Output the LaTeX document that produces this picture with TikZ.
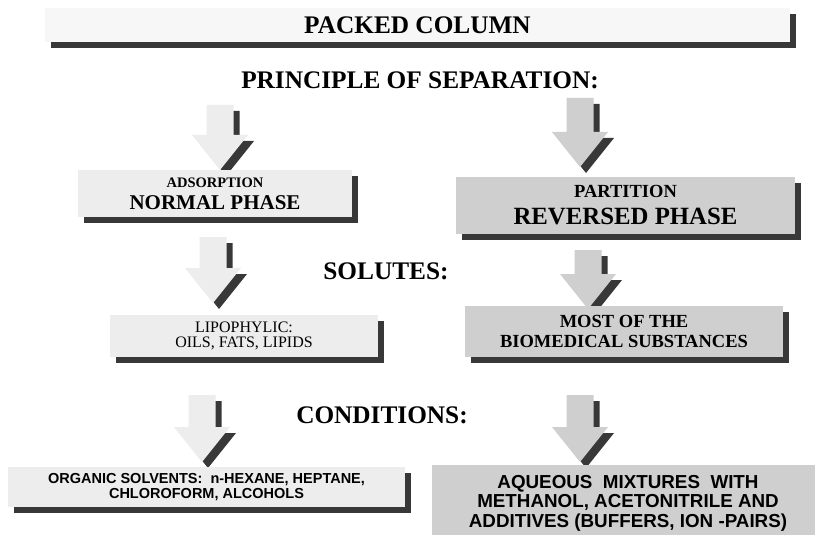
\documentclass[tikz,border=0pt]{standalone}
\usepackage{fontspec}
\setmainfont{Liberation Serif}
\setsansfont{Liberation Sans}
\usetikzlibrary{shadows}
\definecolor{TitleClr}{HTML}{F7F7F7}
\definecolor{NormalClr}{HTML}{EDEDED}
\definecolor{ReversedClr}{HTML}{CFCFCF}
\definecolor{ShadowClr}{HTML}{383838}

\tikzset{
  darkshadow/.style={drop shadow={shadow xshift=6pt,shadow yshift=-6pt,fill=ShadowClr,opacity=1}},
  panel/.style={fill=#1,darkshadow,inner sep=0pt,align=center},
  heading/.style={font=\fontsize{25.3}{27}\selectfont\bfseries},
  pics/blockarrow/.style 2 args={code={
    \path[fill=#1,darkshadow] (0,0) -- (-28,-35) -- (-13.5,-35) -- (-13.5,-#2)
      -- (13.5,-#2) -- (13.5,-35) -- (28,-35) -- cycle;
  }}
}

\begin{document}
\begin{tikzpicture}[x=1pt,y=-1pt]
\fill[white] (0,0) rectangle (815,535);
\useasboundingbox (0,0) rectangle (815,535);

\node[panel=TitleClr,minimum width=745pt,minimum height=34pt,heading] (title) at (417.5,25) {PACKED COLUMN};
\node[heading] (principle) at (420,80.5) {PRINCIPLE OF SEPARATION:};

\pic at (220,170) {blockarrow={NormalClr}{65}};
\pic at (580,167) {blockarrow={ReversedClr}{69}};
\pic at (213,303) {blockarrow={NormalClr}{66}};
\pic at (588,309) {blockarrow={ReversedClr}{59}};
\pic at (202,462) {blockarrow={NormalClr}{67}};
\pic at (580,462) {blockarrow={ReversedClr}{67}};

\node[panel=NormalClr,minimum width=274pt,minimum height=47pt,font=\fontsize{21}{22}\selectfont\bfseries] (adsorb) at (215,193.5)
  {{\fontsize{14.5}{16}\selectfont ADSORPTION}\\NORMAL PHASE};
\node[panel=ReversedClr,minimum width=339pt,minimum height=57pt,font=\fontsize{24.8}{27}\selectfont\bfseries] (partition) at (625.5,205.5)
  {{\fontsize{18.5}{20}\selectfont PARTITION}\\REVERSED PHASE};

\node[heading] (solutes) at (386,271.5) {SOLUTES:};
\node[panel=NormalClr,minimum width=268pt,minimum height=42pt,font=\fontsize{16}{15.5}\selectfont] (lipo) at (244,336)
  {LIPOPHYLIC:\\OILS, FATS, LIPIDS};
\node[panel=ReversedClr,minimum width=318pt,minimum height=51pt,font=\fontsize{18.5}{20}\selectfont\bfseries] (biomed) at (624,331.5)
  {MOST OF THE\\BIOMEDICAL SUBSTANCES};

\node[heading] (conditions) at (382,415.5) {CONDITIONS:};
\node[panel=NormalClr,minimum width=397pt,minimum height=40pt,font=\sffamily\bfseries\fontsize{14.5}{15}\selectfont] (organic) at (206.5,487)
  {ORGANIC SOLVENTS:\ \ n-HEXANE, HEPTANE,\\CHLOROFORM, ALCOHOLS};
\node[panel=ReversedClr,minimum width=392pt,minimum height=76pt,font=\sffamily\bfseries\fontsize{18.8}{19.5}\selectfont] (aqueous) at (628,503)
  {AQUEOUS\ \ MIXTURES\ \ WITH\\METHANOL, ACETONITRILE AND\\ADDITIVES (BUFFERS, ION -PAIRS)};
\end{tikzpicture}
\end{document}
